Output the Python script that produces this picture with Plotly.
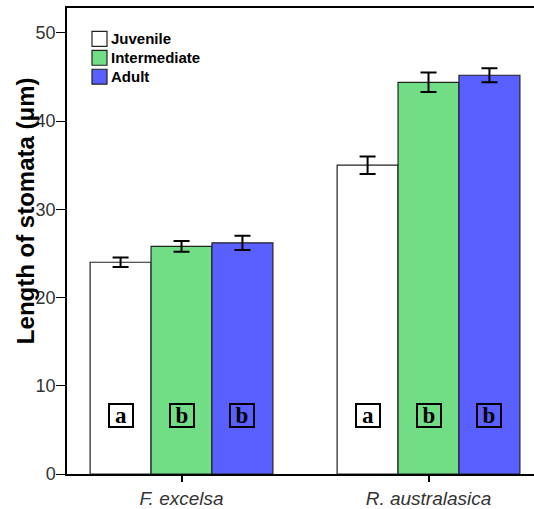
import plotly.graph_objects as go

categories = ["F. excelsa", "R. australasica"]
stages = ["Juvenile", "Intermediate", "Adult"]
means = {
    "Juvenile": [24.0, 35.0],
    "Intermediate": [25.8, 44.4],
    "Adult": [26.2, 45.2],
}
errors = {
    "Juvenile": [0.55, 1.0],
    "Intermediate": [0.6, 1.1],
    "Adult": [0.8, 0.8],
}
letters = {
    "Juvenile": ["a", "a"],
    "Intermediate": ["b", "b"],
    "Adult": ["b", "b"],
}
colors = {"Juvenile": "#FFFFFF", "Intermediate": "#71DE86", "Adult": "#5A5FFF"}

W, H = 534, 509
ML, MR, MT, MB = 67, 0, 8, 33
PW, PH = W - ML - MR, H - MT - MB

def px2paper_x(px):
    return (px - ML) / PW

def px2paper_y(py):
    return (H - MB - py) / PH

xpos = list(range(len(categories)))
bargap = 0.26
barw = (1 - bargap) / len(stages)

fig = go.Figure()
for i, s in enumerate(stages):
    fig.add_trace(go.Bar(
        name=s, x=xpos, y=means[s], showlegend=False,
        marker=dict(color=colors[s], line=dict(color="#222222", width=1.2)),
        error_y=dict(type="data", array=errors[s], color="black", thickness=2, width=8),
    ))
    off = (i - 1) * barw
    for j, c in enumerate(xpos):
        fig.add_annotation(
            x=c + off, y=6.6, xref="x", yref="y", text="<b>%s</b>" % letters[s][j],
            showarrow=False, font=dict(family="Liberation Serif", size=23, color="black"),
            bordercolor="black", borderwidth=2, borderpad=0, bgcolor="rgba(0,0,0,0)",
            width=22, height=21,
        )
    # manual legend entry
    cy = 39 + 19 * i
    fig.add_shape(type="rect", xref="paper", yref="paper",
                  x0=px2paper_x(92), x1=px2paper_x(107),
                  y0=px2paper_y(cy + 7.5), y1=px2paper_y(cy - 7.5),
                  fillcolor=colors[s], line=dict(color="#222222", width=1.2))
    fig.add_annotation(x=px2paper_x(109), y=px2paper_y(cy), xref="paper", yref="paper",
                       text="<b>%s</b>" % s, showarrow=False, xanchor="left", yanchor="middle",
                       font=dict(family="Liberation Sans", size=15, color="black"))

fig.add_annotation(
    x=px2paper_x(25), y=px2paper_y(212), xref="paper", yref="paper",
    text="<b>Length of stomata (μm)</b>",
    textangle=-90, showarrow=False, xanchor="center", yanchor="middle",
    font=dict(family="Liberation Sans", size=24, color="black"),
)

fig.update_layout(
    width=W, height=H,
    margin=dict(l=ML, r=MR, t=MT, b=MB),
    paper_bgcolor="white", plot_bgcolor="white",
    barmode="group", bargap=bargap, bargroupgap=0,
    showlegend=False,
    font=dict(family="Liberation Sans", color="#333333"),
)
fig.update_xaxes(
    tickmode="array", tickvals=xpos,
    ticktext=["<i>%s</i>" % c for c in categories],
    range=[-0.4636, 1.4271],
    showline=True, linecolor="black", linewidth=1.5, mirror=True,
    ticks="outside", ticklen=6, tickcolor="black", tickwidth=1.5,
    tickfont=dict(family="Liberation Sans", size=19, color="#333333"),
    showgrid=False, zeroline=False,
)
fig.update_yaxes(
    range=[0, 52.82], tickvals=[0, 10, 20, 30, 40, 50],
    showline=True, linecolor="black", linewidth=1.5,
    ticks="outside", ticklen=9, tickcolor="black", tickwidth=1,
    ticklabelstandoff=-3,
    tickfont=dict(family="Liberation Sans", size=18, color="#333333"),
    showgrid=False, zeroline=False,
)
fig.write_html("out.html")
